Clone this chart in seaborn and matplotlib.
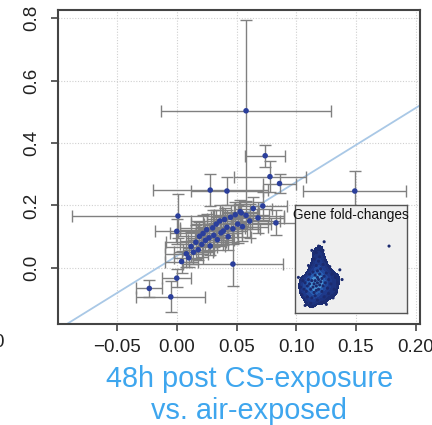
import numpy as np
import pandas as pd
import seaborn as sns
import matplotlib.pyplot as plt
from matplotlib.colors import LinearSegmentedColormap

# ---- mean fold-changes per gene set with their spreads ----
pt_x = [0.058, 0.074, 0.078, 0.149, 0.001, 0.028, 0.042, 0.047, -0.023, -0.005,
        0.000, 0.083, 0.054, 0.000, 0.086,
        0.004, 0.008, 0.010, 0.012, 0.014, 0.016, 0.018, 0.019, 0.021, 0.022,
        0.024, 0.025, 0.027, 0.028, 0.030, 0.031, 0.033, 0.034, 0.036, 0.037,
        0.039, 0.040, 0.042, 0.043, 0.045, 0.047, 0.049, 0.051, 0.053, 0.055,
        0.058, 0.061, 0.064, 0.068, 0.072]
pt_y = [0.503, 0.359, 0.292, 0.246, 0.166, 0.249, 0.246, 0.012, -0.066, -0.093,
        -0.033, 0.144, 0.176, 0.117, 0.270,
        0.020, 0.045, 0.032, 0.068, 0.050, 0.082, 0.058, 0.101, 0.075, 0.110,
        0.088, 0.122, 0.096, 0.070, 0.128, 0.104, 0.140, 0.090, 0.150, 0.112,
        0.118, 0.155, 0.130, 0.100, 0.162, 0.125, 0.170, 0.140, 0.180, 0.132,
        0.168, 0.150, 0.190, 0.160, 0.198]
pt_xerr = [0.071, 0.017, 0.030, 0.043, 0.089, 0.048, 0.030, 0.042, 0.011, 0.029,
           0.012, 0.020, 0.015, 0.018, 0.014,
           0.014, 0.018, 0.012, 0.022, 0.016, 0.025, 0.013, 0.020, 0.018, 0.028,
           0.015, 0.022, 0.019, 0.012, 0.027, 0.016, 0.021, 0.014, 0.024, 0.018,
           0.020, 0.015, 0.026, 0.019, 0.016, 0.023, 0.018, 0.028, 0.015, 0.021,
           0.019, 0.025, 0.016, 0.022, 0.020]
pt_yerr = [0.290, 0.035, 0.050, 0.065, 0.070, 0.052, 0.045, 0.070, 0.027, 0.050,
           0.030, 0.040, 0.030, 0.040, 0.030,
           0.035, 0.042, 0.030, 0.048, 0.038, 0.055, 0.032, 0.045, 0.040, 0.058,
           0.036, 0.050, 0.042, 0.030, 0.056, 0.038, 0.046, 0.034, 0.052, 0.040,
           0.045, 0.036, 0.055, 0.042, 0.038, 0.050, 0.040, 0.060, 0.036, 0.046,
           0.044, 0.055, 0.038, 0.050, 0.046]

# fitted trend line
fit_intercept = 0.038
fit_slope = 2.37

x_ticks = [-0.05, 0.00, 0.05, 0.10, 0.15, 0.20]
y_ticks = [0.0, 0.2, 0.4, 0.6, 0.8]

# ---- individual gene fold-changes (inset, normalised units) ----
gene_x = [0.20, 0.18, 0.22, 0.19, 0.21, 0.17, 0.23, 0.20, 0.16, 0.24, 0.19, 0.22,
          0.15, 0.25, 0.18, 0.21, 0.13, 0.26, 0.20, 0.17, 0.23, 0.14, 0.27, 0.12,
          0.19, 0.24, 0.16, 0.28, 0.11, 0.21, 0.18, 0.25, 0.15, 0.29, 0.10, 0.22,
          0.30, 0.13, 0.26, 0.09, 0.20, 0.32, 0.17, 0.27, 0.08, 0.24, 0.33, 0.14,
          0.19, 0.11, 0.30, 0.07, 0.25, 0.35, 0.16, 0.06, 0.36, 0.28, 0.21, 0.05,
          0.38, 0.12, 0.31, 0.40, 0.03, 0.34, 0.09, 0.42, 0.26, 0.15, 0.37, 0.84]
gene_y = [0.28, 0.30, 0.26, 0.25, 0.31, 0.27, 0.29, 0.33, 0.24, 0.32, 0.21, 0.36,
          0.30, 0.25, 0.35, 0.22, 0.27, 0.34, 0.39, 0.19, 0.41, 0.22, 0.28, 0.31,
          0.44, 0.20, 0.38, 0.37, 0.25, 0.48, 0.16, 0.45, 0.14, 0.23, 0.20, 0.52,
          0.31, 0.36, 0.15, 0.28, 0.12, 0.27, 0.50, 0.49, 0.22, 0.10, 0.36, 0.09,
          0.56, 0.15, 0.18, 0.30, 0.58, 0.22, 0.06, 0.17, 0.33, 0.08, 0.62, 0.24,
          0.28, 0.44, 0.43, 0.40, 0.33, 0.14, 0.07, 0.31, 0.66, 0.58, 0.19, 0.62]

df = pd.DataFrame({"x": pt_x, "y": pt_y, "xerr": pt_xerr, "yerr": pt_yerr})
genes = pd.DataFrame({"x": gene_x, "y": gene_y})

sns.set_theme(style="white")
plt.rcParams["font.family"] = ["Liberation Sans", "DejaVu Sans"]

fig = plt.figure(figsize=(4.32, 4.25), dpi=100)
ax = fig.add_axes([0.134, 0.2376, 0.838, 0.739])

# dotted reference grid
for xv in x_ticks:
    ax.axvline(xv, color="#d0d0d0", lw=0.8, ls=(0, (1, 1.5)), zorder=0)
for yv in y_ticks:
    ax.axhline(yv, color="#d0d0d0", lw=0.8, ls=(0, (1, 1.5)), zorder=0)

ax.errorbar(df["x"], df["y"], xerr=df["xerr"], yerr=df["yerr"], fmt="none",
            ecolor="#808080", elinewidth=1.0, capsize=4.5, capthick=1.0, zorder=2)
sns.scatterplot(data=df, x="x", y="y", ax=ax, color="#2b3f9c", s=16,
                edgecolor="none", zorder=3, legend=False)

ax.axline((0, fit_intercept), slope=fit_slope, color="#a9c8e6", lw=1.3, zorder=1)

ax.set_xlim(-0.0995, 0.2035)
ax.set_ylim(-0.18, 0.826)
ax.set_xticks(x_ticks)
ax.set_xticklabels([f"{v:.2f}".replace("-", "\u2212") for v in x_ticks])
ax.set_yticks(y_ticks)
ax.set_yticklabels([f"{v:.1f}" for v in y_ticks], rotation=90, va="center")
ax.tick_params(axis="both", which="major", direction="out", length=5, width=1.2,
               color="#444444", labelsize=13.5, labelcolor="#222222",
               bottom=True, left=True)
ax.tick_params(axis="y", pad=8)
ax.tick_params(axis="x", pad=6)
ax.set_xlabel("")
ax.set_ylabel("")
for sp in ax.spines.values():
    sp.set_color("#444444")
    sp.set_linewidth(1.5)

# inset with the gene-level density
ax_in = fig.add_axes([0.683, 0.2635, 0.259, 0.254])
ax_in.set_facecolor("#efefef")
dens_cmap = LinearSegmentedColormap.from_list(
    "dens", ["#1b2a6e", "#1e3b8f", "#2a64b8", "#5cb2ea"])
sns.kdeplot(data=genes.iloc[:-1], x="x", y="y", ax=ax_in, fill=True, levels=7,
            thresh=0.22, cmap=dens_cmap, bw_adjust=0.8, zorder=2)
sns.scatterplot(data=genes, x="x", y="y", ax=ax_in, color="#1b2a6e", s=5,
                edgecolor="none", zorder=3, legend=False)
ax_in.set_xlim(0, 1)
ax_in.set_ylim(0, 1)
ax_in.set_xticks([])
ax_in.set_yticks([])
ax_in.set_xlabel("")
ax_in.set_ylabel("")
for sp in ax_in.spines.values():
    sp.set_color("#555555")
    sp.set_linewidth(1.0)
ax_in.text(0.5, 0.975, "Gene fold-changes", transform=ax_in.transAxes,
           ha="center", va="top", fontsize=9.8, color="#111111")

# edge of the neighbouring panel's axis label
fig.text(0.008, 0.193, "0", ha="right", va="center", fontsize=13.5,
         color="#222222")

fig.text(0.577, 0.071, "48h post CS-exposure\nvs. air-exposed", ha="center",
         va="center", fontsize=20.8, color="#3ea6ee", linespacing=1.2)

fig.savefig("out.png", dpi=100)
